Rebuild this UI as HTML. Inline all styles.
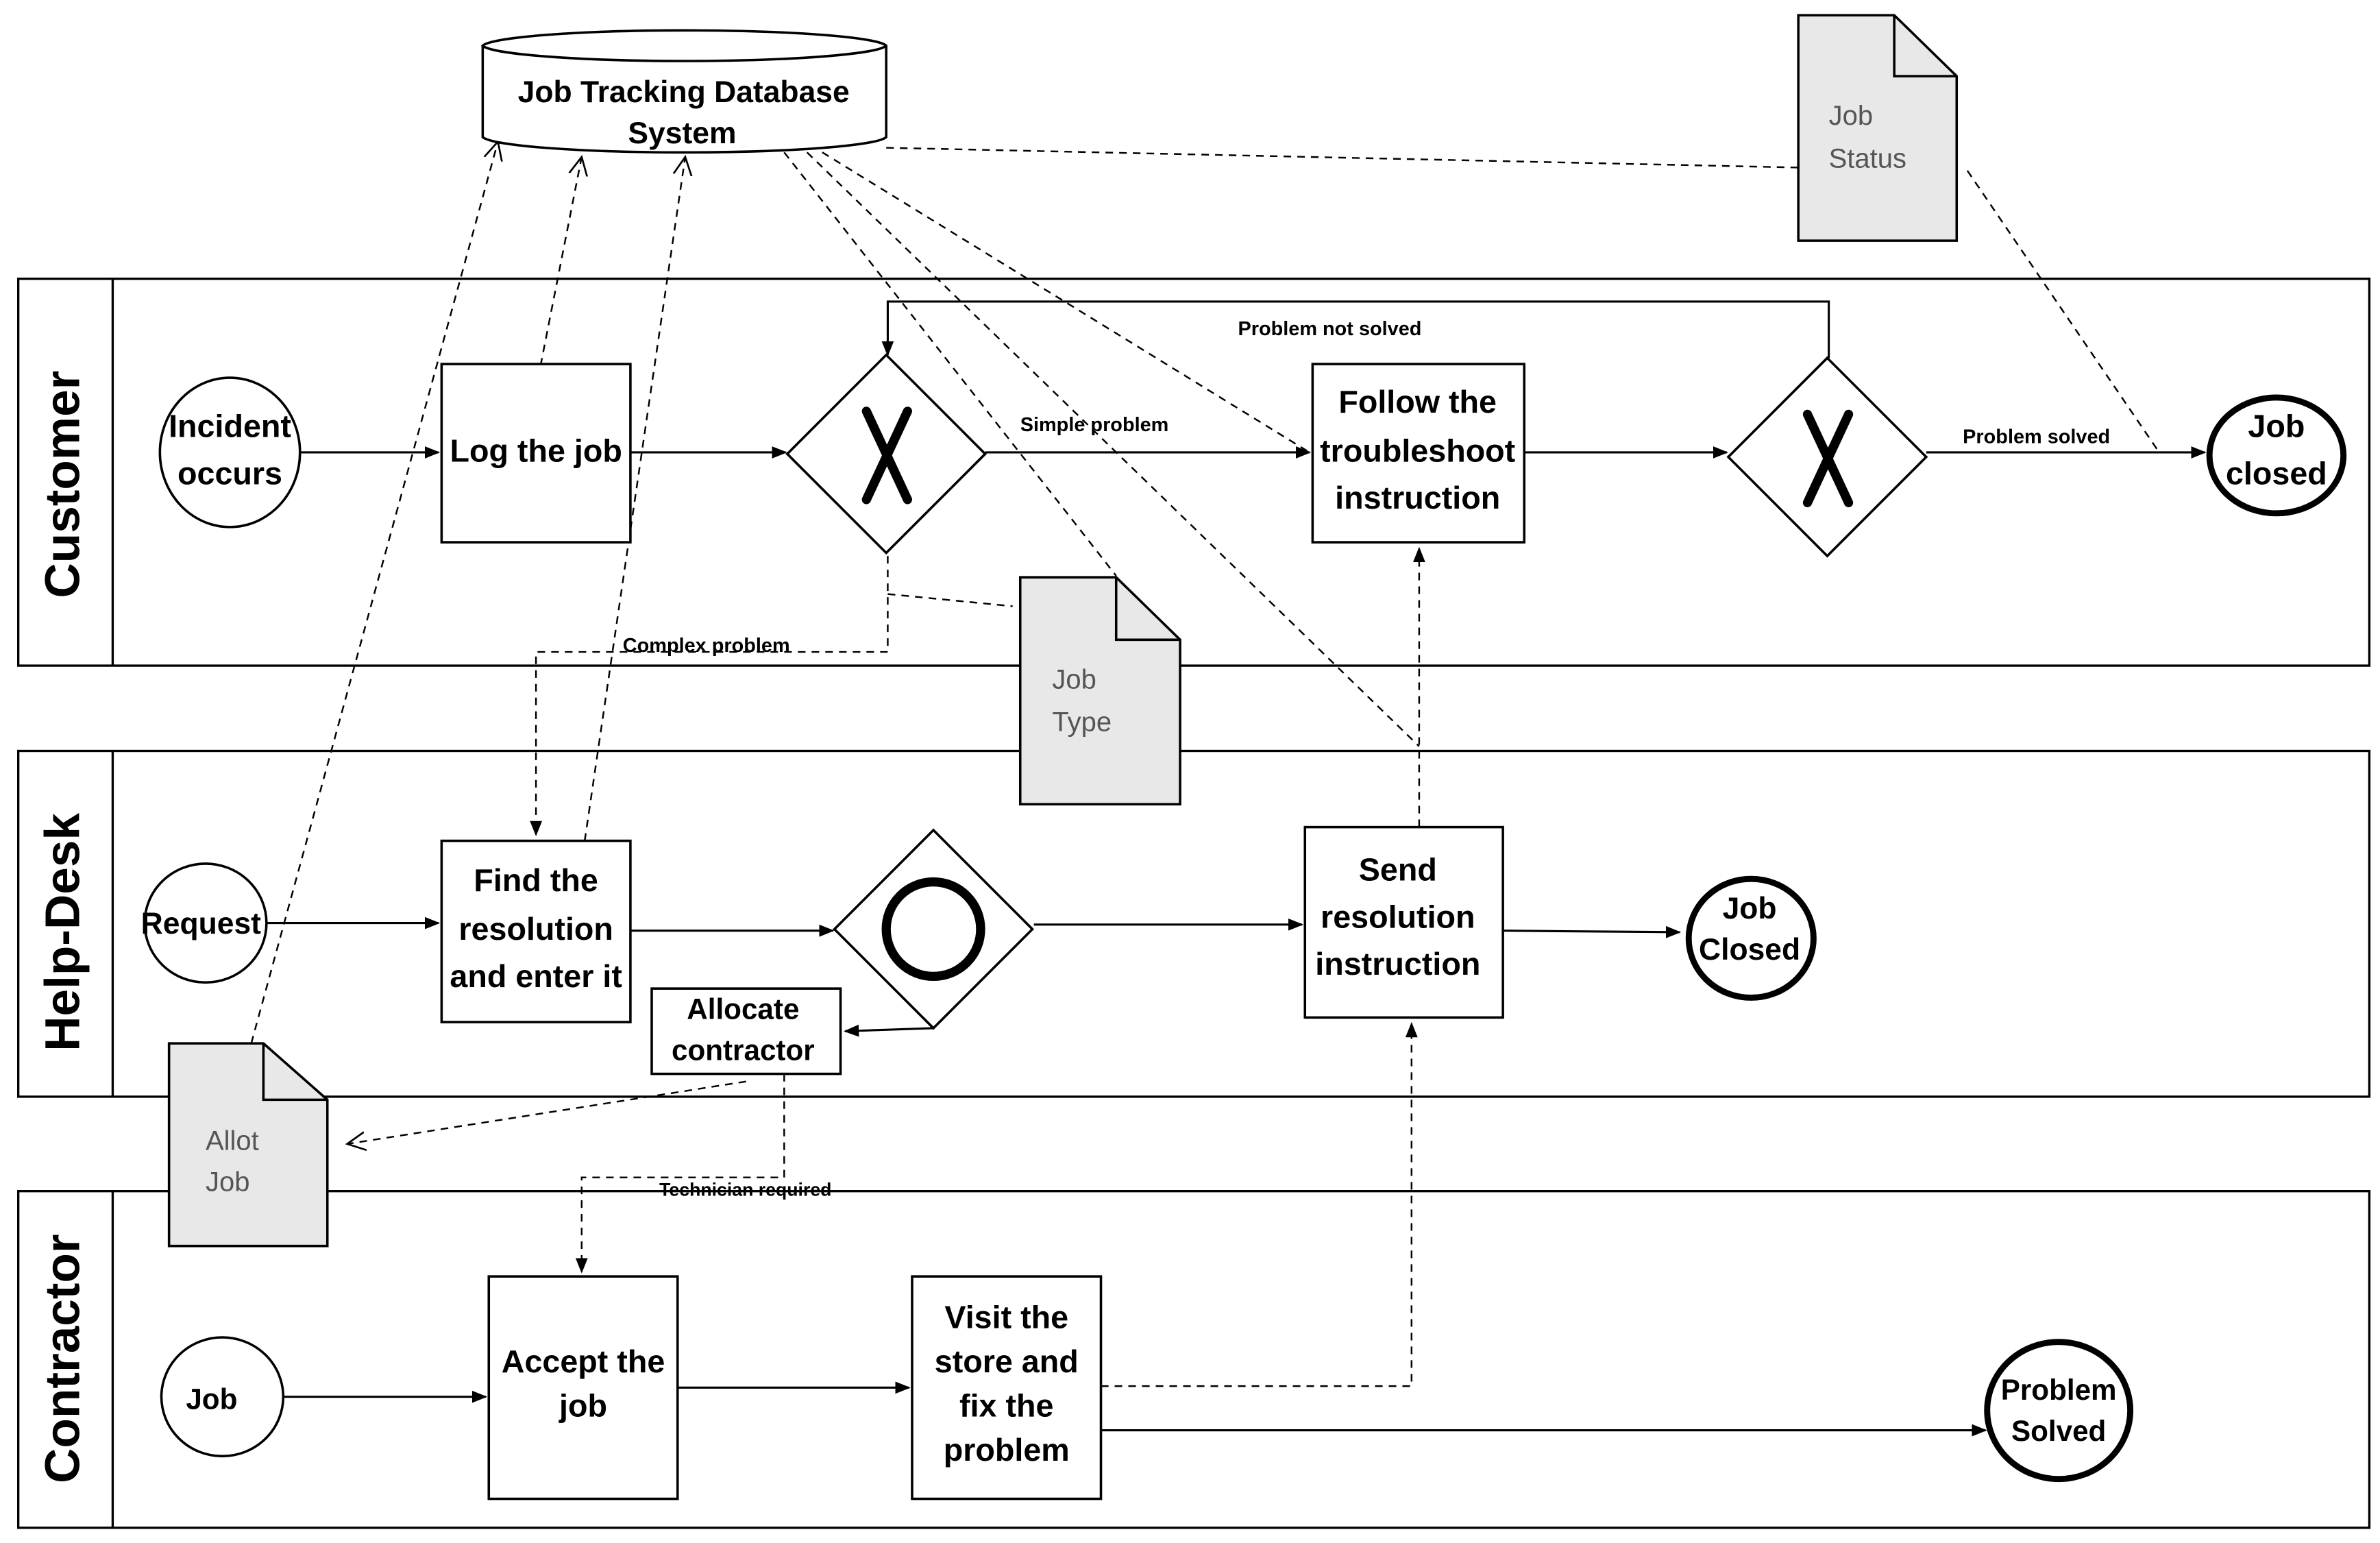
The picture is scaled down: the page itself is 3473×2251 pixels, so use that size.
<!DOCTYPE html>
<html><head><meta charset="utf-8"><style>
html,body{margin:0;padding:0;background:#fff;}
svg{display:block;}
text{font-family:"Liberation Sans",sans-serif;}
.n text{font-family:"Liberation Sans Narrow","Liberation Sans",sans-serif;font-weight:bold;}
</style></head><body>
<svg width="3473" height="2251" viewBox="0 0 1563 1013" preserveAspectRatio="none" xmlns="http://www.w3.org/2000/svg">
<defs>
<marker id="a" markerWidth="10" markerHeight="10" refX="9" refY="5" orient="auto" markerUnits="userSpaceOnUse"><path d="M0,1 L10,5 L0,9 z" fill="#000"/></marker>
<marker id="o" markerWidth="14" markerHeight="14" refX="12" refY="7" orient="auto" markerUnits="userSpaceOnUse"><path d="M0,1 L12,7 L0,13" fill="none" stroke="#000" stroke-width="1.2"/></marker>
</defs>
<g fill="none" stroke="#000" stroke-width="1.5">
<rect x="12" y="183" width="1544" height="254"/><line x1="74" y1="183" x2="74" y2="437"/>
<rect x="12" y="493" width="1544" height="227"/><line x1="74" y1="493" x2="74" y2="720"/>
<rect x="12" y="782" width="1544" height="221"/><line x1="74" y1="782" x2="74" y2="1003"/>
</g>
<g font-weight="bold" font-size="32" text-anchor="middle">
<text transform="translate(52,318) rotate(-90)">Customer</text>
<text transform="translate(52,612) rotate(-90)">Help-Desk</text>
<text transform="translate(52,892) rotate(-90)">Contractor</text>
</g>
<g fill="none" stroke="#000" stroke-width="1.1" stroke-dasharray="5,4">
<line x1="582" y1="97" x2="1181" y2="110"/>
<line x1="1292" y1="112" x2="1418" y2="297"/>
<line x1="355" y1="240" x2="382" y2="103" marker-end="url(#o)"/>
<line x1="384" y1="552" x2="450" y2="103" marker-end="url(#o)"/>
<line x1="165" y1="685" x2="327" y2="93" marker-end="url(#o)"/>
<line x1="515" y1="100" x2="733" y2="378"/>
<line x1="530" y1="100" x2="932" y2="490"/>
<line x1="540" y1="100" x2="860" y2="297"/>
<polyline points="583,365 583,428 352,428 352,548" marker-end="url(#a)"/>
<line x1="583" y1="390" x2="665" y2="398"/>
<line x1="932" y1="543" x2="932" y2="360" marker-end="url(#a)"/>
<polyline points="723,910 927,910 927,672" marker-end="url(#a)"/>
<polyline points="515,705 515,773 382,773 382,835" marker-end="url(#a)"/>
<line x1="490" y1="710" x2="228" y2="751" marker-end="url(#o)"/>
</g>
<g fill="none" stroke="#000" stroke-width="1.4">
<line x1="197" y1="297" x2="288" y2="297" marker-end="url(#a)"/>
<line x1="414" y1="297" x2="516" y2="297" marker-end="url(#a)"/>
<line x1="647" y1="297" x2="860" y2="297" marker-end="url(#a)"/>
<line x1="1001" y1="297" x2="1134" y2="297" marker-end="url(#a)"/>
<line x1="1265" y1="297" x2="1448" y2="297" marker-end="url(#a)"/>
<polyline points="1201,235 1201,198 583,198 583,233" marker-end="url(#a)"/>
<line x1="175" y1="606" x2="288" y2="606" marker-end="url(#a)"/>
<line x1="414" y1="611" x2="547" y2="611" marker-end="url(#a)"/>
<line x1="679" y1="607" x2="855" y2="607" marker-end="url(#a)"/>
<line x1="987" y1="611" x2="1103" y2="612" marker-end="url(#a)"/>
<polyline points="613,675 555,677" marker-end="url(#a)"/>
<line x1="186" y1="917" x2="319" y2="917" marker-end="url(#a)"/>
<line x1="445" y1="911" x2="597" y2="911" marker-end="url(#a)"/>
<line x1="723" y1="939" x2="1304" y2="939" marker-end="url(#a)"/>
</g>
<g stroke="#000" stroke-width="1.6" fill="#fff">
<path d="M317,30 L317,90 A133,11 0 0 0 582,90 L582,30 A133,11 0 0 0 317,30 A133,11 0 0 0 582,30"/>
<path d="M1181,10 L1244,10 L1285,50 L1285,158 L1181,158 z" fill="#e8e8e8"/><path d="M1244,10 L1244,50 L1285,50" fill="none"/>
<path d="M670,379 L733,379 L775,420 L775,528 L670,528 z" fill="#e8e8e8"/><path d="M733,379 L733,420 L775,420" fill="none"/>
<path d="M111,685 L173,685 L215,722 L215,818 L111,818 z" fill="#e8e8e8"/><path d="M173,685 L173,722 L215,722" fill="none"/>
<ellipse cx="151" cy="297" rx="46" ry="49"/>
<rect x="290" y="239" width="124" height="117"/>
<path d="M582,233 L647,298 L582,363 L517,298 z"/>
<rect x="862" y="239" width="139" height="117"/>
<path d="M1200,235 L1265,300 L1200,365 L1135,300 z"/>
<ellipse cx="1495" cy="299" rx="44" ry="38" stroke-width="4"/>
<ellipse cx="135" cy="606" rx="40" ry="39"/>
<rect x="290" y="552" width="124" height="119"/>
<path d="M613,545 L678,610 L613,675 L548,610 z"/>
<circle cx="613" cy="610" r="31" stroke-width="6"/>
<rect x="857" y="543" width="130" height="125"/>
<ellipse cx="1150" cy="616" rx="41" ry="39" stroke-width="4"/>
<rect x="428" y="649" width="124" height="56"/>
<ellipse cx="146" cy="917" rx="40" ry="39"/>
<rect x="321" y="838" width="124" height="146"/>
<rect x="599" y="838" width="124" height="146"/>
<ellipse cx="1352" cy="926" rx="47" ry="45" stroke-width="4"/>
</g>
<g stroke="#000" stroke-width="6" stroke-linecap="round">
<line x1="569" y1="270" x2="596" y2="328"/><line x1="596" y1="270" x2="569" y2="328"/>
<line x1="1187" y1="272" x2="1214" y2="330"/><line x1="1214" y1="272" x2="1187" y2="330"/>
</g>
<g class="n" font-size="21" text-anchor="middle" fill="#000">
<text x="449" y="67" font-size="20">Job Tracking Database</text><text x="448" y="94" font-size="20">System</text>
<text x="151" y="287">Incident</text><text x="151" y="318">occurs</text>
<text x="352" y="303">Log the job</text>
<text x="931" y="271">Follow the</text><text x="931" y="303">troubleshoot</text><text x="931" y="334">instruction</text>
<text x="1495" y="287">Job</text><text x="1495" y="318">closed</text>
<text x="132" y="613" font-size="20">Request</text>
<text x="352" y="585">Find the</text><text x="352" y="617">resolution</text><text x="352" y="648">and enter it</text>
<text x="918" y="578">Send</text><text x="918" y="609">resolution</text><text x="918" y="640">instruction</text>
<text x="1149" y="603" font-size="20">Job</text><text x="1149" y="630" font-size="20">Closed</text>
<text x="488" y="669" font-size="19">Allocate</text><text x="488" y="696" font-size="19">contractor</text>
<text x="139" y="925" font-size="19">Job</text>
<text x="383" y="901">Accept the</text><text x="383" y="930">job</text>
<text x="661" y="872">Visit the</text><text x="661" y="901">store and</text><text x="661" y="930">fix the</text><text x="661" y="959">problem</text>
<text x="1352" y="919" font-size="19">Problem</text><text x="1352" y="946" font-size="19">Solved</text>
</g>
<g font-size="18" fill="#555">
<text x="1201" y="82">Job</text><text x="1201" y="110">Status</text>
<text x="691" y="452">Job</text><text x="691" y="480">Type</text>
<text x="135" y="755">Allot</text><text x="135" y="782">Job</text>
</g>
<g class="n" font-size="13" fill="#000">
<text x="813" y="220">Problem not solved</text>
<text x="670" y="283">Simple problem</text>
<text x="1289" y="291">Problem solved</text>
<text x="409" y="428">Complex problem</text>
<text x="433" y="785" font-size="12">Technician required</text>
</g>
</svg>
</body></html>
